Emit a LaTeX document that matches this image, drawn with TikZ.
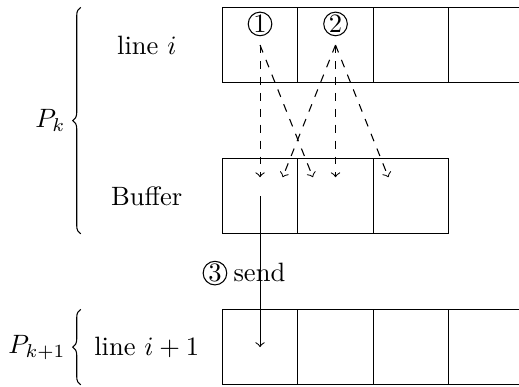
\documentclass[tikz,border=0pt]{standalone}
\usetikzlibrary{decorations.pathreplacing}
\tikzset{
  cell/.style={draw, minimum size=1cm, inner sep=0pt, outer sep=0pt},
  num/.style={draw, circle, inner sep=0pt, minimum size=8.9pt},
  dflow/.style={->, dashed},
  sflow/.style={->},
  pbrace/.style={decorate, decoration={brace, amplitude=3pt}},
  plabel/.style={anchor=base east, inner sep=0pt},
}
\begin{document}
\begin{tikzpicture}
\useasboundingbox (-2.944,-0.016) rectangle (3.930,5.097);
% rows of cells
\foreach \i in {1,...,4} {
  \node[cell] (a\i) at (\i-0.5,4.5) {};
  \node[cell] (l\i) at (\i-0.5,0.5) {};
}
\foreach \i in {1,2,3} {
  \node[cell] (b\i) at (\i-0.5,2.5) {};
}
% circled numbers
\node[num] (c1) at (0.5,4.78) {1};
\node[num] (c2) at (1.5,4.78) {2};
% targets in buffer
\coordinate (t11) at (0.5,2.75);
\coordinate (t12) at (1.2,2.75);
\coordinate (t21) at (0.8,2.75);
\coordinate (t22) at (1.5,2.75);
\coordinate (t23) at (2.2,2.75);
\draw[dflow] (a1.center) -- (t11);
\draw[dflow] (a1.center) -- (t12);
\draw[dflow] (a2.center) -- (t21);
\draw[dflow] (a2.center) -- (t22);
\draw[dflow] (a2.center) -- (t23);
% send
\draw[sflow] (b1.center) -- (l1.center);
\node[num] (c3) at (-0.097,1.48) {3};
\node[anchor=base west, inner sep=0pt] (snd) at (0.142,1.367) {send};
% row labels
\node (li) at (-1,4.5) {line $i$};
\node (buf) at (-1,2.5) {Buffer};
\node (li1) at (-1,0.5) {line $i+1$};
% braces
\draw[pbrace] (-1.875,2) -- (-1.875,5);
\draw[pbrace] (-1.875,0) -- (-1.875,1);
\node[plabel] (pk) at (-2.07,3.41) {$P_k$};
\node[plabel] (pk1) at (-2.07,0.41) {$P_{k+1}$};
\end{tikzpicture}
\end{document}
